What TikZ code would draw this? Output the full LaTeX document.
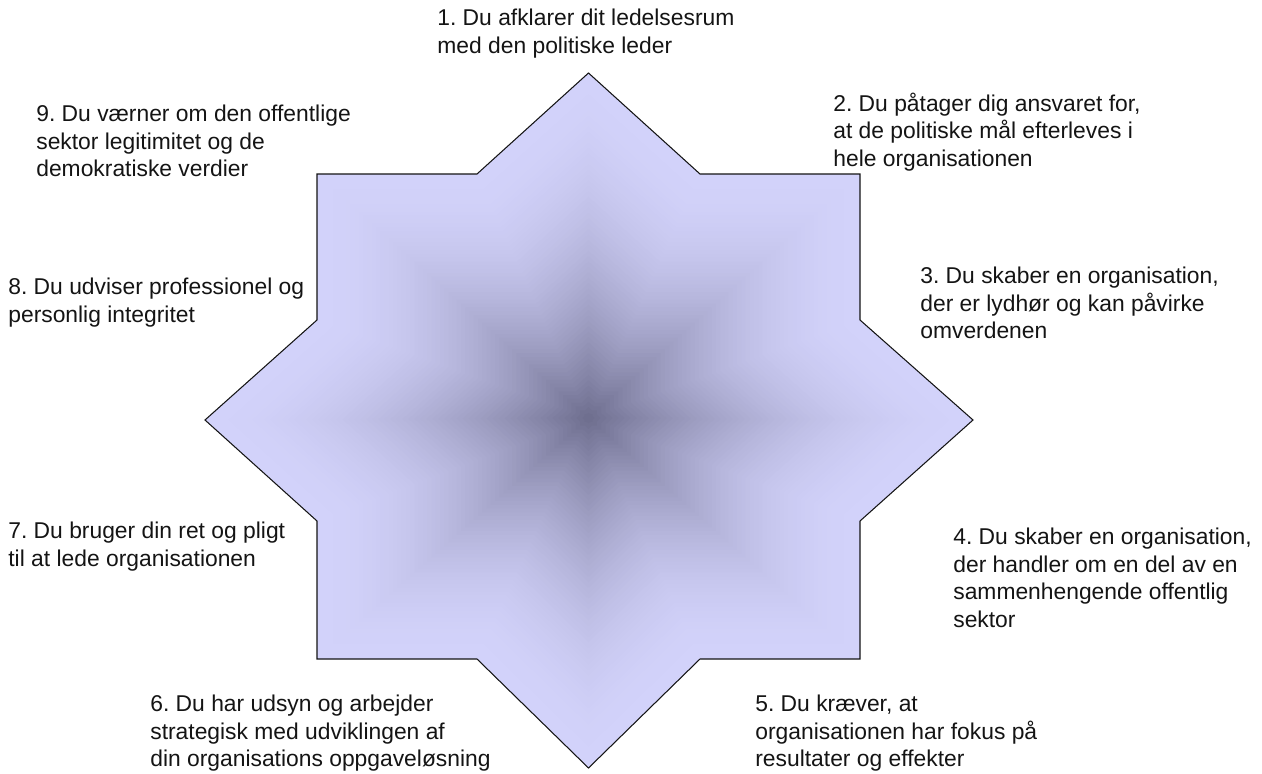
\documentclass[tikz,border=0pt]{standalone}
\usepackage{fontspec}
\setmainfont{Liberation Sans}
\usepackage{xcolor}
\usepackage{tikz}
\definecolor{StarOuter}{HTML}{D2D2FA}
\definecolor{StarInner}{HTML}{6C6C8C}
\definecolor{StarEdge}{HTML}{141414}
\definecolor{PointInk}{HTML}{141414}
\newcommand{\pointfont}{\fontsize{13}{15.65}\selectfont}
\tikzset{
  starline/.style={insert path={(0,-345) -- (111.5,-244) -- (271.5,-244) -- (271.5,-98)
    -- (384.5,2) -- (271.5,103) -- (271.5,241) -- (111.5,241) -- (0,350)
    -- (-111.5,241) -- (-271.5,241) -- (-271.5,103) -- (-383.5,2)
    -- (-271.5,-98) -- (-271.5,-244) -- (-111.5,-244) -- cycle}},
  pointtext/.style={anchor=north west,align=left,inner sep=0pt,text=PointInk,
    font=\pointfont,execute at begin node=\strut}
}
\frenchspacing

\begin{document}
\begin{tikzpicture}[x=0.02cm,y=-0.02cm]
  \useasboundingbox (0,0) rectangle (1262,774);
  % star with shape-following shade
  \foreach \i [evaluate=\i as \s using {1-\i/64},
               evaluate=\i as \p using {100*(\i/64)^1.9}] in {0,...,63}
    \fill[StarInner!\p!StarOuter,shift={(588.5,418)},scale=\s] [starline];
  \draw[StarEdge,line width=0.6pt,line join=miter,shift={(588.5,418)}] [starline];

  \node[pointtext] (p1) at (437,8.7) {1. Du afklarer dit ledelsesrum\\med den politiske leder};
  \node[pointtext] (p2) at (833,92.7) {2. Du påtager dig ansvaret for,\\at de politiske mål efterleves i\\hele organisationen};
  \node[pointtext] (p3) at (920,266.7) {3. Du skaber en organisation,\\der er lydhør og kan påvirke\\omverdenen};
  \node[pointtext] (p4) at (953,527.7) {4. Du skaber en organisation,\\der handler om en del av en\\sammenhengende offentlig\\sektor};
  \node[pointtext] (p5) at (755,694.7) {5. Du kræver, at\\organisationen har fokus på\\resultater og effekter};
  \node[pointtext] (p6) at (150,694.7) {6. Du har udsyn og arbejder\\strategisk med udviklingen af\\din organisations oppgaveløsning};
  \node[pointtext] (p7) at (8,521.7) {7. Du bruger din ret og pligt\\til at lede organisationen};
  \node[pointtext] (p8) at (8,277.7) {8. Du udviser professionel og\\personlig integritet};
  \node[pointtext] (p9) at (36,104.7) {9. Du værner om den offentlige\\sektor legitimitet og de\\demokratiske verdier};
\end{tikzpicture}
\end{document}
